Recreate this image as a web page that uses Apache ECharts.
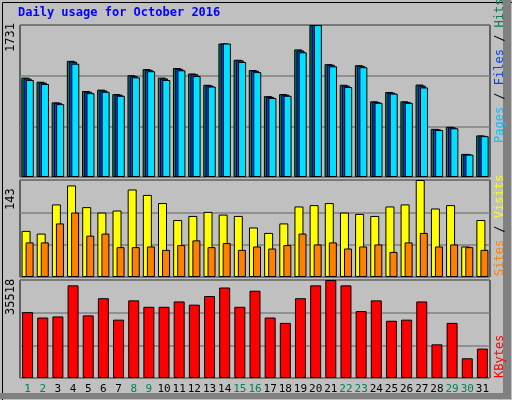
<!DOCTYPE html>
<html><head><meta charset="utf-8">
<script src="https://cdn.jsdelivr.net/npm/echarts@6/dist/echarts.min.js"></script>
<style>html,body{margin:0;padding:0;background:#c0c0c0}#c{width:512px;height:400px}</style>
</head><body><div id="c"></div>
<script>
const days = ['1','2','3','4','5','6','7','8','9','10','11','12','13','14','15','16','17','18','19','20','21','22','23','24','25','26','27','28','29','30','31'];
const weekend = ['1','2','8','9','15','16','22','23','29','30'];
const hits = [1132,1085,850,1323,979,995,944,1159,1229,1132,1241,1179,1050,1520,1335,1218,921,944,1453,1731,1285,1050,1273,862,968,862,1053,548,572,263,474];
const files = [1122,1075,845,1313,970,985,938,1150,1220,1122,1232,1170,1042,1520,1328,1210,912,938,1440,1731,1278,1040,1265,855,960,855,1040,543,565,260,470];
const pages = [1105,1060,830,1290,955,970,925,1135,1205,1105,1215,1150,1030,1520,1310,1195,900,925,1420,1731,1260,1025,1250,845,950,845,1020,535,555,255,465];
const visits = [68,64,107,135,103,95,98,129,121,109,84,90,96,92,90,73,65,79,104,106,109,95,93,90,104,107,143,101,106,45,84];
const sites = [51,51,79,95,61,64,44,44,45,40,47,54,44,50,40,45,42,47,64,48,51,42,45,48,37,51,65,45,48,44,40];
const kbytes = [23860,21917,22305,33575,22694,28912,21140,28135,25803,25803,27746,26580,29689,32798,25803,31632,21917,19974,28912,33575,35518,33575,24249,28135,20751,21140,27746,12202,19974,7150,10648];
const maxTop = 1731, maxMid = 143, maxBot = 35518;

const grids = [
  {left:20,right:22,top:25,height:152},
  {left:20,right:22,top:180,height:97},
  {left:20,right:22,top:280,height:98}
];
grids.forEach(g=>{g.show=true;g.backgroundColor='#c0c0c0';g.borderColor='#000';g.borderWidth=1;});
function xa(i,show){return {type:'category',gridIndex:i,data:days,axisLine:{show:false},axisTick:{show:false},
  axisLabel:{show:show,interval:0,margin:6,fontFamily:'DejaVu Sans Mono',fontSize:11,
    color:function(v){return weekend.indexOf(v)>=0?'#00805c':'#000';}}};}
function ya(i,max){return {type:'value',gridIndex:i,min:0,max:max,interval:max/3,axisLabel:{show:false},
  axisLine:{show:false},axisTick:{show:false},splitLine:{lineStyle:{color:'#808080',width:1.5}}};}
const bs={borderColor:'#000',borderWidth:1};
const chart = echarts.init(document.getElementById('c'));
chart.setOption({
  animation:false,
  backgroundColor:'#c0c0c0',
  grid:grids,
  xAxis:[xa(0,false),xa(1,false),xa(2,true)],
  yAxis:[ya(0,maxTop),ya(1,maxMid),ya(2,maxBot)],
  series:[
    {type:'bar',xAxisIndex:0,yAxisIndex:0,data:hits,barWidth:8,barGap:'-72%',itemStyle:Object.assign({color:'#00805c'},bs)},
    {type:'bar',xAxisIndex:0,yAxisIndex:0,data:files,barWidth:8,barGap:'-72%',itemStyle:Object.assign({color:'#0040ff'},bs)},
    {type:'bar',xAxisIndex:0,yAxisIndex:0,data:pages,barWidth:8,barGap:'-72%',itemStyle:Object.assign({color:'#00e0ff'},bs)},
    {type:'bar',xAxisIndex:1,yAxisIndex:1,data:visits,barWidth:9,barGap:'-55%',itemStyle:Object.assign({color:'#ffff00'},bs)},
    {type:'bar',xAxisIndex:1,yAxisIndex:1,data:sites,barWidth:8,barGap:'-55%',itemStyle:Object.assign({color:'#ff8000'},bs)},
    {type:'bar',xAxisIndex:2,yAxisIndex:2,data:kbytes,barWidth:11,itemStyle:Object.assign({color:'#ff0000'},bs)}
  ],
  graphic:[
    {type:'rect',left:0,top:0,shape:{width:511,height:399},style:{fill:'none',stroke:'#000',lineWidth:1}},
    {type:'rect',left:503,top:0,shape:{width:8,height:399},style:{fill:'#808080'}},
    {type:'rect',left:0,top:393,shape:{width:511,height:6},style:{fill:'#808080'}},
    {type:'text',left:18,top:7,style:{text:'Daily usage for October 2016',fill:'#0000ff',font:'bold 12px "DejaVu Sans Mono"'}},
    {type:'text',x:5,y:52,rotation:Math.PI/2,style:{text:'1731',fill:'#000',font:'12px "DejaVu Sans Mono"'}},
    {type:'text',x:5,y:210,rotation:Math.PI/2,style:{text:'143',fill:'#000',font:'12px "DejaVu Sans Mono"'}},
    {type:'text',x:5,y:315,rotation:Math.PI/2,style:{text:'35518',fill:'#000',font:'12px "DejaVu Sans Mono"'}},
    {type:'text',x:494,y:143,rotation:Math.PI/2,style:{
      text:'{p|Pages}{s| / }{f|Files}{s| / }{h|Hits}',font:'12px "DejaVu Sans Mono"',
      rich:{p:{fill:'#00c0ff',font:'12px "DejaVu Sans Mono"'},f:{fill:'#0040ff',font:'12px "DejaVu Sans Mono"'},
            h:{fill:'#00805c',font:'12px "DejaVu Sans Mono"'},s:{fill:'#000',font:'12px "DejaVu Sans Mono"'}}}},
    {type:'text',x:494,y:276,rotation:Math.PI/2,style:{
      text:'{a|Sites}{s| / }{b|Visits}',font:'12px "DejaVu Sans Mono"',
      rich:{a:{fill:'#ff8000',font:'12px "DejaVu Sans Mono"'},b:{fill:'#ffff00',font:'12px "DejaVu Sans Mono"'},s:{fill:'#000',font:'12px "DejaVu Sans Mono"'}}}},
    {type:'text',x:494,y:378,rotation:Math.PI/2,style:{text:'KBytes',fill:'#ff0000',font:'12px "DejaVu Sans Mono"'}}
  ]
});
</script></body></html>
